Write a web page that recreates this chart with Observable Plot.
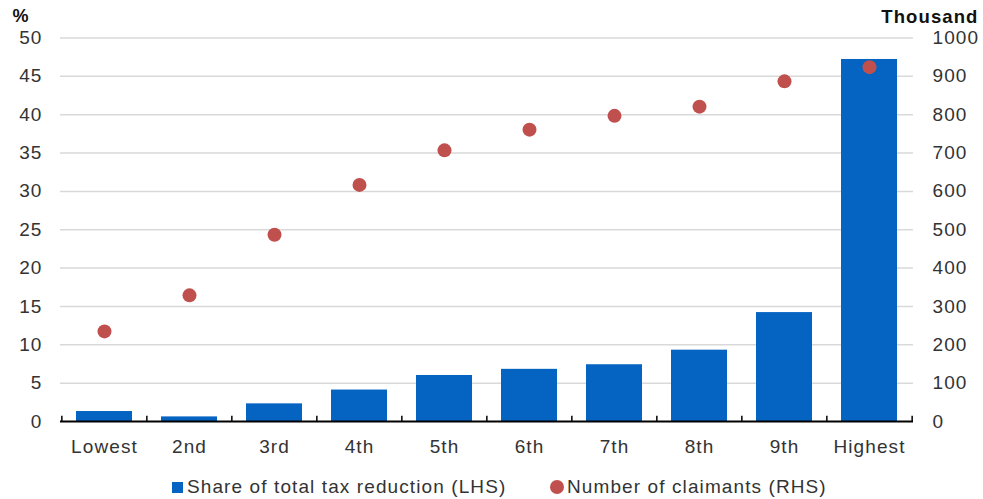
<!DOCTYPE html>
<html>
<head>
<meta charset="utf-8">
<script src="https://cdn.jsdelivr.net/npm/d3@7"></script>
<script src="https://cdn.jsdelivr.net/npm/@observablehq/plot@0.6"></script>
<style>
  html, body { margin: 0; padding: 0; background: #fff; }
  #wrap { position: relative; width: 983px; height: 499px; font-family: "Liberation Sans", Arial, sans-serif; color: #333; }
  #legend { position: absolute; left: 0; top: 474px; width: 983px; height: 26px; font-size: 19px; letter-spacing: 1.1px; color: #333; }
  .lg { position: absolute; top: 0; display: flex; align-items: center; height: 26px; white-space: nowrap; }
  .sq { width: 11px; height: 11px; background: #0563C1; margin-right: 4px; }
  .ci { width: 14px; height: 14px; border-radius: 50%; background: #C0504D; margin-right: 3px; }
  #chart svg text { letter-spacing: 1.1px; }
</style>
</head>
<body>
<div id="wrap">
  <div id="chart"></div>
  <div id="legend">
    <div class="lg" style="left:172px"><div class="sq"></div><span>Share of total tax reduction (LHS)</span></div>
    <div class="lg" style="left:550px"><div class="ci"></div><span>Number of claimants (RHS)</span></div>
  </div>
</div>
<script>
const categories = ["Lowest", "2nd", "3rd", "4th", "5th", "6th", "7th", "8th", "9th", "Highest"];
const shareLHS = [1.3, 0.6, 2.3, 4.1, 6.0, 6.8, 7.4, 9.3, 14.2, 47.2];
const claimantsRHS = [235, 329, 487, 617, 707, 761, 797, 821, 887, 924];
const leftTicks = [0, 5, 10, 15, 20, 25, 30, 35, 40, 45, 50];
const rightTicks = [0, 100, 200, 300, 400, 500, 600, 700, 800, 900, 1000];
const ratio = 20; // RHS thousand per LHS %

const rows = categories.map((c, i) => ({cat: c, share: shareLHS[i], claim: claimantsRHS[i]}));

const W = 983, H = 466;
const mL = 60, mR = 70, mT = 37.5, mB = H - 421;
const step = (W - mL - mR) / categories.length;

const chart = Plot.plot({
  width: W,
  height: H,
  marginLeft: mL,
  marginRight: mR,
  marginTop: mT,
  marginBottom: mB,
  style: {fontFamily: "Liberation Sans, Arial, sans-serif", fontSize: "19px", color: "#333", background: "#fff"},
  x: {domain: categories, paddingInner: 0.34, paddingOuter: 0.17, label: null},
  y: {domain: [0, 50], label: null},
  marks: [
    Plot.ruleY(leftTicks.filter(d => d > 0), {stroke: "#d9d9d9", strokeWidth: 1.5}),
    Plot.barY(rows, {x: "cat", y: "share", fill: "#0563C1"}),
    Plot.ruleY([0], {stroke: "#000", strokeWidth: 2}),
    Plot.ruleX(categories, {x: d => d, dx: -step / 2, y1: 0, y2: 0.7, stroke: "#000", strokeWidth: 1.5}),
    Plot.ruleX(categories.slice(-1), {x: d => d, dx: step / 2, y1: 0, y2: 0.7, stroke: "#000", strokeWidth: 1.5}),
    Plot.dot(rows, {x: "cat", y: d => d.claim / ratio, r: 7, fill: "#C0504D", stroke: "none"}),
    Plot.axisY(leftTicks, {anchor: "left", tickSize: 0, tickPadding: 18, label: null, fill: "#333"}),
    Plot.axisY(rightTicks.map(d => d / ratio), {anchor: "right", tickSize: 0, tickPadding: 19, label: null, tickFormat: d => String(Math.round(d * ratio)), fill: "#333"}),
    Plot.axisX({tickSize: 0, tickPadding: 18, label: null, fill: "#333"}),
    Plot.text(["%"], {frameAnchor: "top-left", dx: -48, dy: -29, fontWeight: "bold", fontSize: 18, fill: "#111", textAnchor: "start"}),
    Plot.text(["Thousand"], {frameAnchor: "top-right", dx: 65, dy: -28, fontWeight: "bold", fontSize: 18.5, fill: "#111", textAnchor: "end"})
  ]
});
document.getElementById("chart").appendChild(chart);
</script>
</body>
</html>
